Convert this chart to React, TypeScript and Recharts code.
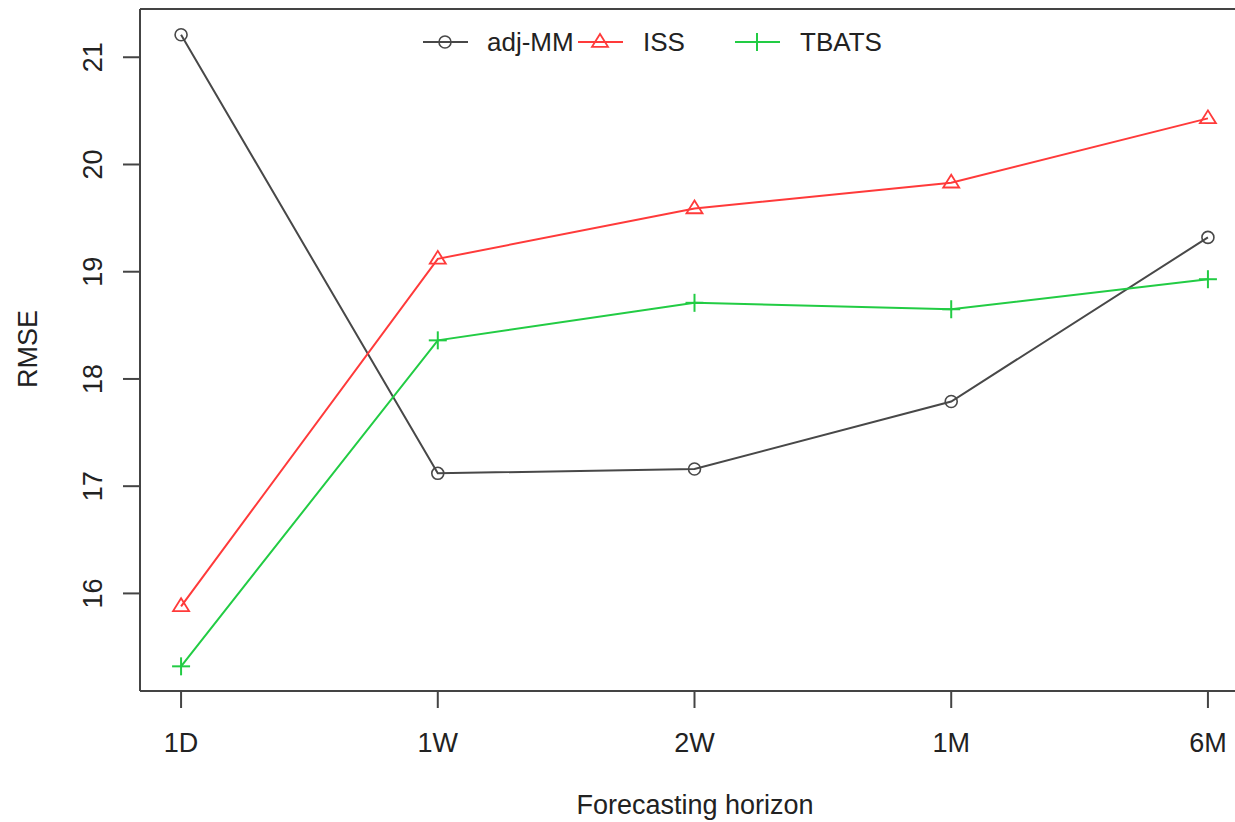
import React from 'react';
import { LineChart, Line, XAxis, YAxis, ReferenceLine, Legend } from 'recharts';

const categories = ['1D', '1W', '2W', '1M', '6M'];
const adjMM = [21.21, 17.12, 17.16, 17.79, 19.32];
const iss = [15.88, 19.12, 19.59, 19.83, 20.43];
const tbats = [15.32, 18.36, 18.71, 18.65, 18.93];
const seriesNames = ['adj-MM', 'ISS', 'TBATS'];
const yTicks = [16, 17, 18, 19, 20, 21];
const xTicks = [1, 2, 3, 4, 5];

const data = categories.map((c, i) => ({ x: i + 1, cat: c, adjMM: adjMM[i], iss: iss[i], tbats: tbats[i] }));

const X_DOMAIN: [number, number] = [0.84, 5.16];
const Y_DOMAIN: [number, number] = [15.09, 21.45];

const FONT = '"Liberation Sans", Arial, Helvetica, sans-serif';
const TEXT = '#222';
const AXIS = '#444';
const C_BLACK = '#484848';
const C_RED = '#ff3a3a';
const C_GREEN = '#22cc44';
const FS = 27;

const CircleDot = (props: any) => {
  const { cx, cy } = props;
  if (cx == null || cy == null) return null;
  return <circle cx={cx} cy={cy} r={6} fill="none" stroke={C_BLACK} strokeWidth={1.6} />;
};
const TriDot = (props: any) => {
  const { cx, cy } = props;
  if (cx == null || cy == null) return null;
  const s = 8;
  return (
    <polygon
      points={`${cx},${cy - s} ${cx - s},${cy + s * 0.6} ${cx + s},${cy + s * 0.6}`}
      fill="none"
      stroke={C_RED}
      strokeWidth={1.8}
    />
  );
};
const PlusDot = (props: any) => {
  const { cx, cy } = props;
  if (cx == null || cy == null) return null;
  const s = 9;
  return (
    <g stroke={C_GREEN} strokeWidth={2}>
      <line x1={cx - s} y1={cy} x2={cx + s} y2={cy} />
      <line x1={cx} y1={cy - s} x2={cx} y2={cy + s} />
    </g>
  );
};

const YTick = (props: any) => {
  const { y, payload } = props;
  return (
    <g>
      <line x1={123} y1={y} x2={140} y2={y} stroke={AXIS} strokeWidth={2} />
      <text
        x={102}
        y={y}
        transform={`rotate(-90, 102, ${y})`}
        textAnchor="middle"
        fontSize={FS}
        fontFamily={FONT}
        fill={TEXT}
      >
        {payload.value}
      </text>
    </g>
  );
};

const XTick = (props: any) => {
  const { x, payload } = props;
  return (
    <g>
      <line x1={x} y1={691} x2={x} y2={708} stroke={AXIS} strokeWidth={2} />
      <text x={x} y={752} textAnchor="middle" fontSize={FS} fontFamily={FONT} fill={TEXT}>
        {categories[payload.value - 1]}
      </text>
    </g>
  );
};

const renderLegend = () => {
  const items = [
    { name: seriesNames[0], lx: 423, tx: 487, color: C_BLACK, kind: 'circle' },
    { name: seriesNames[1], lx: 578, tx: 643, color: C_RED, kind: 'tri' },
    { name: seriesNames[2], lx: 735, tx: 800, color: C_GREEN, kind: 'plus' },
  ];
  const cy = 42;
  return (
    <svg width={1000} height={80} style={{ position: 'absolute', left: 0, top: 0, overflow: 'visible' }}>
      {items.map((it) => {
        const mx = it.lx + 22;
        return (
          <g key={it.name}>
            <line x1={it.lx} y1={cy} x2={it.lx + 45} y2={cy} stroke={it.color} strokeWidth={2} />
            {it.kind === 'circle' && <CircleDot cx={mx} cy={cy} />}
            {it.kind === 'tri' && <TriDot cx={mx} cy={cy} />}
            {it.kind === 'plus' && <PlusDot cx={mx} cy={cy} />}
            <text x={it.tx} y={cy + 9} fontSize={FS - 1} fontFamily={FONT} fill={TEXT}>
              {it.name}
            </text>
          </g>
        );
      })}
    </svg>
  );
};

export default function App() {
  return (
    <div style={{ position: 'absolute', left: 0, top: 0, width: 1235, height: 822, overflow: 'hidden', background: '#fff' }}>
      <LineChart width={1260} height={822} data={data} margin={{ top: 9, right: 11, bottom: 0, left: 0 }}>
        <XAxis
          dataKey="x"
          type="number"
          domain={X_DOMAIN}
          ticks={xTicks}
          allowDataOverflow
          height={131}
          axisLine={{ stroke: AXIS, strokeWidth: 2 }}
          tickLine={false}
          tick={<XTick />}
          label={{
            value: 'Forecasting horizon',
            position: 'insideBottom',
            offset: 0,
            content: () => (
              <text x={695} y={814} textAnchor="middle" fontSize={FS} fontFamily={FONT} fill={TEXT}>
                Forecasting horizon
              </text>
            ),
          }}
        />
        <YAxis
          type="number"
          domain={Y_DOMAIN}
          ticks={yTicks}
          allowDataOverflow
          width={140}
          axisLine={{ stroke: AXIS, strokeWidth: 2 }}
          tickLine={false}
          tick={<YTick />}
          label={{
            value: 'RMSE',
            content: () => (
              <text x={37} y={349} transform="rotate(-90, 37, 349)" textAnchor="middle" fontSize={FS} fontFamily={FONT} fill={TEXT}>
                RMSE
              </text>
            ),
          }}
        />
        <ReferenceLine y={Y_DOMAIN[1]} stroke={AXIS} strokeWidth={2} />
        <ReferenceLine x={X_DOMAIN[1]} stroke={AXIS} strokeWidth={2} />
        <Legend
          layout="horizontal"
          verticalAlign="middle"
          align="center"
          content={renderLegend}
          wrapperStyle={{ position: 'absolute', left: 0, top: 0, width: 1000, height: 80 }}
        />
        <Line type="linear" dataKey="adjMM" name={seriesNames[0]} stroke={C_BLACK} strokeWidth={2} dot={<CircleDot />} activeDot={false} isAnimationActive={false} />
        <Line type="linear" dataKey="iss" name={seriesNames[1]} stroke={C_RED} strokeWidth={2} dot={<TriDot />} activeDot={false} isAnimationActive={false} />
        <Line type="linear" dataKey="tbats" name={seriesNames[2]} stroke={C_GREEN} strokeWidth={2} dot={<PlusDot />} activeDot={false} isAnimationActive={false} />
      </LineChart>
    </div>
  );
}
